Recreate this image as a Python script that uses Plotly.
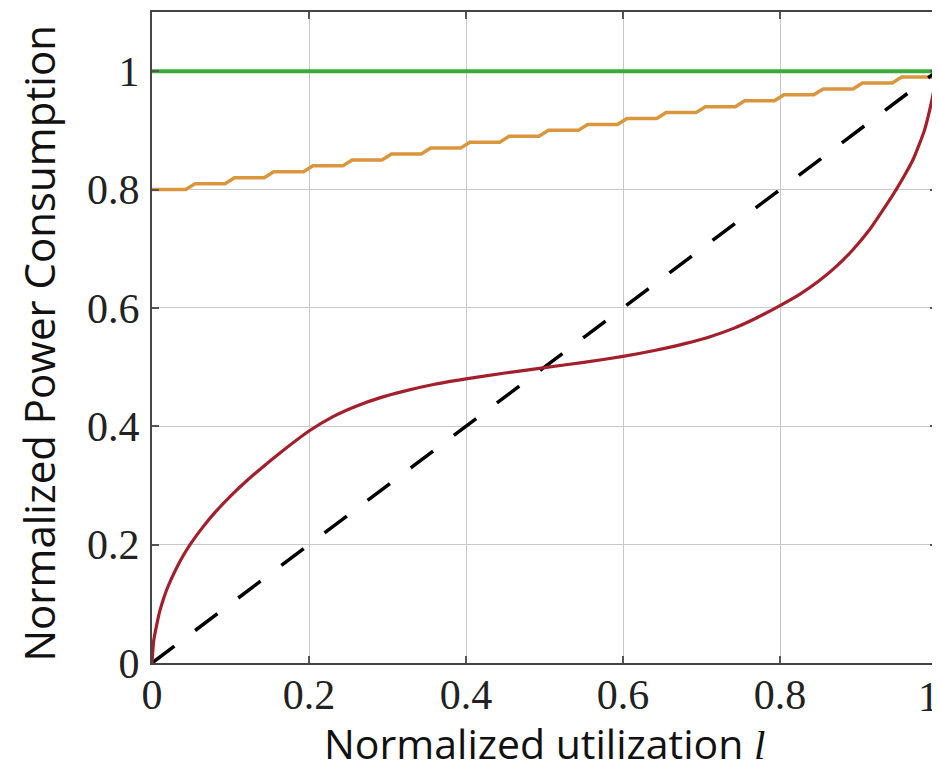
import plotly.graph_objects as go

# ---- data ----
# constant (always-on) power
const_x = [0.0, 1.0]
const_y = [1.0, 1.0]

# ideal energy-proportional line
ideal_x = [0.0, 1.0]
ideal_y = [0.0, 1.0]

# staircase series: step edges and level after each edge
step_edges = [0.00, 0.05, 0.10, 0.15, 0.20, 0.25, 0.30, 0.35, 0.40, 0.45, 0.50,
              0.55, 0.60, 0.65, 0.70, 0.75, 0.80, 0.85, 0.90, 0.95, 1.00]
step_levels = [0.80, 0.81, 0.82, 0.83, 0.84, 0.85, 0.86, 0.87, 0.88, 0.89, 0.90,
               0.91, 0.92, 0.93, 0.94, 0.95, 0.96, 0.97, 0.98, 0.99, 1.00]

# S-shaped curve
curve_x = [0.0, 0.002, 0.005, 0.01, 0.015, 0.02, 0.03, 0.04, 0.05, 0.065,
           0.08, 0.10, 0.12, 0.14, 0.165, 0.20, 0.23, 0.26, 0.29, 0.32, 0.36,
           0.40, 0.45, 0.50, 0.55, 0.60, 0.64, 0.68, 0.71, 0.74, 0.77, 0.80,
           0.825, 0.849, 0.87, 0.892, 0.914, 0.934, 0.948, 0.96, 0.97, 0.977,
           0.984, 0.989, 0.993, 0.996, 0.998, 1.0]
curve_y = [0.0, 0.036, 0.058, 0.088, 0.110, 0.128, 0.157, 0.182, 0.203, 0.230,
           0.254, 0.282, 0.307, 0.330, 0.357, 0.392, 0.416, 0.434, 0.448, 0.459,
           0.471, 0.480, 0.490, 0.499, 0.508, 0.518, 0.528, 0.540, 0.551, 0.565,
           0.583, 0.604, 0.623, 0.645, 0.668, 0.697, 0.732, 0.771, 0.800, 0.827,
           0.852, 0.875, 0.900, 0.925, 0.948, 0.968, 0.983, 1.0]

x_tickvals = [0, 0.2, 0.4, 0.6, 0.8, 1.0]
x_ticktext = ["0", "0.2", "0.4", "0.6", "0.8", "1"]
y_tickvals = [0, 0.2, 0.4, 0.6, 0.8, 1.0]
y_ticktext = ["0", "0.2", "0.4", "0.6", "0.8", "1"]

# build staircase polyline with short slanted risers
stair_x, stair_y = [step_edges[0]], [step_levels[0]]
for k in range(1, len(step_edges)):
    e = step_edges[k]
    stair_x.append(e - 0.007)
    stair_y.append(step_levels[k - 1])
    stair_x.append(min(e + 0.005, 1.0))
    stair_y.append(step_levels[k])

fig = go.Figure()
fig.add_trace(go.Scatter(x=const_x, y=const_y, mode="lines",
                         line=dict(color="#3aab3a", width=4), showlegend=False))
fig.add_trace(go.Scatter(x=stair_x, y=stair_y, mode="lines",
                         line=dict(color="#d9963c", width=3.5), showlegend=False))
fig.add_trace(go.Scatter(x=ideal_x, y=ideal_y, mode="lines",
                         line=dict(color="black", width=3.5, dash="28px,26px"),
                         showlegend=False))
fig.add_trace(go.Scatter(x=curve_x, y=curve_y, mode="lines",
                         line=dict(color="#a21f2b", width=3.2, shape="spline",
                                   smoothing=0.5),
                         showlegend=False))

tickfont = dict(family="Liberation Serif, DejaVu Serif, serif", size=42, color="#222")
axis_common = dict(showline=True, linecolor="#444", linewidth=2, mirror="allticks",
                   ticks="inside", ticklen=7, tickcolor="#555", tickwidth=1.5,
                   showgrid=True, gridcolor="#c8c8c8", gridwidth=1.2,
                   zeroline=False, tickfont=tickfont, automargin=False)

# last x tick label is drawn as an annotation so it stays inside the page
fig.update_xaxes(range=[0, 1], tickvals=x_tickvals,
                 ticktext=x_ticktext[:-1] + [""],
                 ticklabelstandoff=-6, **axis_common)
fig.update_yaxes(range=[0, 1.1], tickvals=y_tickvals, ticktext=y_ticktext,
                 ticklabelstandoff=2, **axis_common)

fig.add_annotation(xref="x", yref="paper", x=x_tickvals[-1], y=0,
                   xanchor="right", yanchor="top", xshift=4, yshift=-9,
                   showarrow=False, text=x_ticktext[-1], font=tickfont)

fig.add_annotation(xref="paper", yref="paper", x=0.5, y=-0.1235,
                   xanchor="center", yanchor="middle", showarrow=False,
                   text="Normalized utilization <i><span style=\"font-family:'Liberation Serif'\">l</span></i>",
                   font=dict(family="Open Sans, Noto Sans, sans-serif", size=41, color="#111"))
fig.add_annotation(xref="paper", yref="paper", x=-0.145, y=0.491,
                   xanchor="center", yanchor="middle", showarrow=False,
                   textangle=-90, text="Normalized Power Consumption",
                   font=dict(family="Open Sans, Noto Sans, sans-serif", size=42, color="#111"))

# the page body adds an 8px margin, so the figure is 8px smaller and margins shifted
fig.update_layout(width=932, height=763,
                  margin=dict(l=144, r=3, t=4, b=108),
                  plot_bgcolor="white", paper_bgcolor="white")

fig.write_html("out.html")
